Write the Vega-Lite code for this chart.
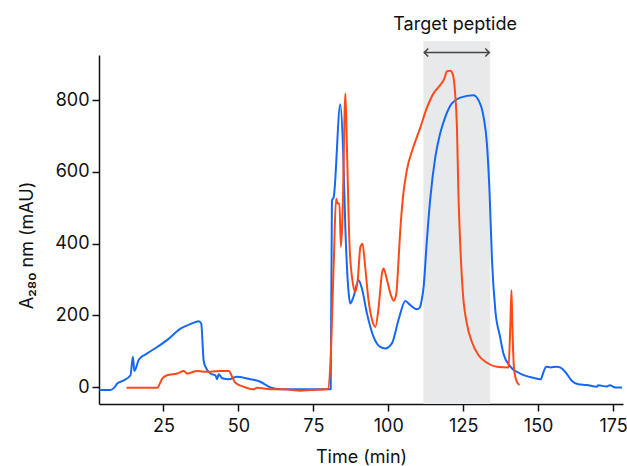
{
  "$schema": "https://vega.github.io/schema/vega-lite/v6.json",
  "width": 524,
  "height": 349,
  "autosize": {"type": "none"},
  "padding": {"left": 99, "top": 55, "right": 4, "bottom": 62},
  "config": {"view": {"stroke": null}, "font": "Inter", "text": {"font": "Inter"}},
  "datasets": {
    "shade": [{"start": 111.7, "end": 134.0, "lo": -47, "hi": 965}],
    "arrow": [{"x1": 112.0, "x2": 133.7, "y": 933}],
    "heads": [{"x": 112.0, "y": 933, "side": "left"}, {"x": 133.7, "y": 933, "side": "right"}],
    "label": [{"x": 122.3, "y": 1011, "text": "Target peptide"}],
    "trace": [
      {"run": "B", "t": 3.6, "v": -8}, {"run": "B", "t": 7.3, "v": -8}, {"run": "B", "t": 8.5, "v": -2}, {"run": "B", "t": 9.6, "v": 10},
      {"run": "B", "t": 11.8, "v": 19}, {"run": "B", "t": 14.0, "v": 33}, {"run": "B", "t": 14.8, "v": 85}, {"run": "B", "t": 15.3, "v": 45},
      {"run": "B", "t": 16.8, "v": 77}, {"run": "B", "t": 19.6, "v": 94}, {"run": "B", "t": 22.9, "v": 112}, {"run": "B", "t": 26.2, "v": 131},
      {"run": "B", "t": 30.7, "v": 163}, {"run": "B", "t": 34.0, "v": 176}, {"run": "B", "t": 36.8, "v": 184}, {"run": "B", "t": 37.6, "v": 177},
      {"run": "B", "t": 38.4, "v": 75}, {"run": "B", "t": 39.0, "v": 57}, {"run": "B", "t": 40.7, "v": 38}, {"run": "B", "t": 42.3, "v": 33},
      {"run": "B", "t": 42.9, "v": 22}, {"run": "B", "t": 43.4, "v": 36}, {"run": "B", "t": 44.6, "v": 25}, {"run": "B", "t": 46.8, "v": 22},
      {"run": "B", "t": 49.6, "v": 29}, {"run": "B", "t": 52.9, "v": 24}, {"run": "B", "t": 57.3, "v": 15}, {"run": "B", "t": 60.7, "v": -1},
      {"run": "B", "t": 64.0, "v": -6}, {"run": "B", "t": 74.0, "v": -6}, {"run": "B", "t": 80.4, "v": -6}, {"run": "B", "t": 80.8, "v": -5},
      {"run": "B", "t": 81.2, "v": 520}, {"run": "B", "t": 81.8, "v": 530}, {"run": "B", "t": 84.0, "v": 789}, {"run": "B", "t": 84.9, "v": 670},
      {"run": "B", "t": 85.7, "v": 438}, {"run": "B", "t": 86.8, "v": 261}, {"run": "B", "t": 87.3, "v": 233}, {"run": "B", "t": 88.4, "v": 252},
      {"run": "B", "t": 90.1, "v": 298}, {"run": "B", "t": 91.2, "v": 275}, {"run": "B", "t": 92.9, "v": 205}, {"run": "B", "t": 95.1, "v": 140},
      {"run": "B", "t": 97.3, "v": 112}, {"run": "B", "t": 99.0, "v": 108}, {"run": "B", "t": 101.2, "v": 122}, {"run": "B", "t": 103.4, "v": 187},
      {"run": "B", "t": 105.7, "v": 240}, {"run": "B", "t": 107.3, "v": 229}, {"run": "B", "t": 109.6, "v": 217}, {"run": "B", "t": 110.5, "v": 222},
      {"run": "B", "t": 111.2, "v": 245}, {"run": "B", "t": 111.8, "v": 280}, {"run": "B", "t": 112.8, "v": 400}, {"run": "B", "t": 114.0, "v": 525},
      {"run": "B", "t": 115.7, "v": 642}, {"run": "B", "t": 117.3, "v": 707}, {"run": "B", "t": 119.0, "v": 753}, {"run": "B", "t": 121.2, "v": 791},
      {"run": "B", "t": 124.0, "v": 807}, {"run": "B", "t": 128.4, "v": 814}, {"run": "B", "t": 130.1, "v": 800}, {"run": "B", "t": 131.8, "v": 753},
      {"run": "B", "t": 132.9, "v": 679}, {"run": "B", "t": 133.8, "v": 540}, {"run": "B", "t": 134.6, "v": 354}, {"run": "B", "t": 135.7, "v": 215},
      {"run": "B", "t": 137.3, "v": 140}, {"run": "B", "t": 138.4, "v": 94}, {"run": "B", "t": 140.7, "v": 57}, {"run": "B", "t": 144.0, "v": 38},
      {"run": "B", "t": 148.4, "v": 26}, {"run": "B", "t": 150.9, "v": 22}, {"run": "B", "t": 151.6, "v": 38}, {"run": "B", "t": 152.7, "v": 57},
      {"run": "B", "t": 154.0, "v": 55}, {"run": "B", "t": 156.2, "v": 57}, {"run": "B", "t": 157.3, "v": 55}, {"run": "B", "t": 159.0, "v": 43},
      {"run": "B", "t": 161.2, "v": 18}, {"run": "B", "t": 163.4, "v": 8}, {"run": "B", "t": 166.2, "v": 6}, {"run": "B", "t": 169.6, "v": 1},
      {"run": "B", "t": 170.0, "v": 5}, {"run": "B", "t": 172.9, "v": 2}, {"run": "B", "t": 173.9, "v": 5}, {"run": "B", "t": 175.7, "v": -1},
      {"run": "B", "t": 178.0, "v": -1},
      {"run": "A", "t": 12.7, "v": -2}, {"run": "A", "t": 22.9, "v": -2}, {"run": "A", "t": 24.6, "v": 24}, {"run": "A", "t": 26.2, "v": 33},
      {"run": "A", "t": 29.6, "v": 38}, {"run": "A", "t": 31.8, "v": 45}, {"run": "A", "t": 32.9, "v": 38}, {"run": "A", "t": 36.2, "v": 45},
      {"run": "A", "t": 38.4, "v": 43}, {"run": "A", "t": 40.7, "v": 43}, {"run": "A", "t": 44.0, "v": 45}, {"run": "A", "t": 46.8, "v": 45},
      {"run": "A", "t": 47.9, "v": 29}, {"run": "A", "t": 49.0, "v": 12}, {"run": "A", "t": 51.8, "v": 1}, {"run": "A", "t": 55.1, "v": -6},
      {"run": "A", "t": 56.2, "v": -2}, {"run": "A", "t": 60.7, "v": -6}, {"run": "A", "t": 65.1, "v": -6}, {"run": "A", "t": 70.7, "v": -10},
      {"run": "A", "t": 74.0, "v": -8}, {"run": "A", "t": 79.8, "v": -5}, {"run": "A", "t": 80.7, "v": 66}, {"run": "A", "t": 81.8, "v": 345},
      {"run": "A", "t": 82.6, "v": 526}, {"run": "A", "t": 83.1, "v": 512}, {"run": "A", "t": 83.7, "v": 512}, {"run": "A", "t": 84.2, "v": 391},
      {"run": "A", "t": 84.7, "v": 465}, {"run": "A", "t": 85.7, "v": 819}, {"run": "A", "t": 86.2, "v": 670}, {"run": "A", "t": 87.1, "v": 391},
      {"run": "A", "t": 88.2, "v": 289}, {"run": "A", "t": 89.0, "v": 266}, {"run": "A", "t": 89.8, "v": 298}, {"run": "A", "t": 90.7, "v": 391},
      {"run": "A", "t": 91.4, "v": 400}, {"run": "A", "t": 92.3, "v": 335}, {"run": "A", "t": 93.4, "v": 243}, {"run": "A", "t": 94.6, "v": 187},
      {"run": "A", "t": 95.7, "v": 168}, {"run": "A", "t": 96.8, "v": 224}, {"run": "A", "t": 97.9, "v": 317}, {"run": "A", "t": 98.4, "v": 331},
      {"run": "A", "t": 99.6, "v": 298}, {"run": "A", "t": 100.7, "v": 261}, {"run": "A", "t": 101.8, "v": 241}, {"run": "A", "t": 102.7, "v": 261},
      {"run": "A", "t": 103.1, "v": 307}, {"run": "A", "t": 104.0, "v": 438}, {"run": "A", "t": 104.9, "v": 530}, {"run": "A", "t": 106.2, "v": 605},
      {"run": "A", "t": 108.4, "v": 670}, {"run": "A", "t": 110.7, "v": 724}, {"run": "A", "t": 112.9, "v": 779}, {"run": "A", "t": 115.1, "v": 819},
      {"run": "A", "t": 117.3, "v": 842}, {"run": "A", "t": 118.7, "v": 860}, {"run": "A", "t": 119.6, "v": 881}, {"run": "A", "t": 120.7, "v": 882},
      {"run": "A", "t": 121.6, "v": 870}, {"run": "A", "t": 122.3, "v": 819}, {"run": "A", "t": 122.9, "v": 726}, {"run": "A", "t": 123.4, "v": 540},
      {"run": "A", "t": 124.0, "v": 400}, {"run": "A", "t": 124.9, "v": 261}, {"run": "A", "t": 126.2, "v": 178}, {"run": "A", "t": 127.9, "v": 126},
      {"run": "A", "t": 130.1, "v": 89}, {"run": "A", "t": 132.9, "v": 68}, {"run": "A", "t": 136.2, "v": 57}, {"run": "A", "t": 140.1, "v": 55},
      {"run": "A", "t": 140.7, "v": 168}, {"run": "A", "t": 141.1, "v": 270}, {"run": "A", "t": 141.4, "v": 168}, {"run": "A", "t": 142.0, "v": 47},
      {"run": "A", "t": 142.9, "v": 15}, {"run": "A", "t": 143.8, "v": 6}
    ]
  },
  "layer": [
    {
      "data": {"name": "shade"},
      "mark": {"type": "rect", "color": "#e8e9eb"},
      "encoding": {
        "x": {"field": "start", "type": "quantitative", "scale": {"domain": [3.5, 178.3], "nice": false, "zero": false},
          "axis": {"values": [25, 50, 75, 100, 125, 150, 175], "title": "Time (min)", "grid": false,
            "domainColor": "#111", "tickColor": "#111", "labelColor": "#111", "titleColor": "#111",
            "labelFontSize": 18, "titleFontSize": 18, "titleFontWeight": "normal", "tickSize": 7,
            "domainWidth": 1.5, "tickWidth": 1.5, "labelPadding": 6, "titlePadding": 13}},
        "x2": {"field": "end"},
        "y": {"field": "lo", "type": "quantitative", "scale": {"domain": [-47, 926], "nice": false, "zero": false},
          "axis": {"values": [0, 200, 400, 600, 800], "title": "A₂₈₀ nm (mAU)", "grid": false,
            "domainColor": "#111", "tickColor": "#111", "labelColor": "#111", "titleColor": "#111",
            "labelFontSize": 18, "titleFontSize": 18, "titleFontWeight": "normal", "tickSize": 7,
            "domainWidth": 1.5, "tickWidth": 1.5, "labelPadding": 3, "titlePadding": 18, "titleY": 190}},
        "y2": {"field": "hi"}
      }
    },
    {
      "data": {"name": "trace"},
      "mark": {"type": "line", "strokeWidth": 2, "interpolate": "monotone"},
      "encoding": {
        "x": {"field": "t", "type": "quantitative"},
        "y": {"field": "v", "type": "quantitative"},
        "color": {"field": "run", "type": "nominal", "scale": {"domain": ["A", "B"], "range": ["#ff4a17", "#1468f5"]}, "legend": null}
      }
    },
    {
      "data": {"name": "arrow"},
      "mark": {"type": "rule", "color": "#444", "strokeWidth": 1.5},
      "encoding": {
        "x": {"field": "x1", "type": "quantitative"},
        "x2": {"field": "x2"},
        "y": {"field": "y", "type": "quantitative"}
      }
    },
    {
      "data": {"name": "heads"},
      "mark": {"type": "point", "filled": false, "color": "#444", "strokeWidth": 1.5, "size": 64, "opacity": 1},
      "encoding": {
        "x": {"field": "x", "type": "quantitative"},
        "y": {"field": "y", "type": "quantitative"},
        "shape": {"field": "side", "type": "nominal", "scale": {"domain": ["left", "right"], "range": ["M1,-1L0,0L1,1", "M-1,-1L0,0L-1,1"]}, "legend": null}
      }
    },
    {
      "data": {"name": "label"},
      "mark": {"type": "text", "fontSize": 18, "color": "#111", "align": "center", "baseline": "middle"},
      "encoding": {
        "x": {"field": "x", "type": "quantitative"},
        "y": {"field": "y", "type": "quantitative"},
        "text": {"field": "text"}
      }
    }
  ]
}
